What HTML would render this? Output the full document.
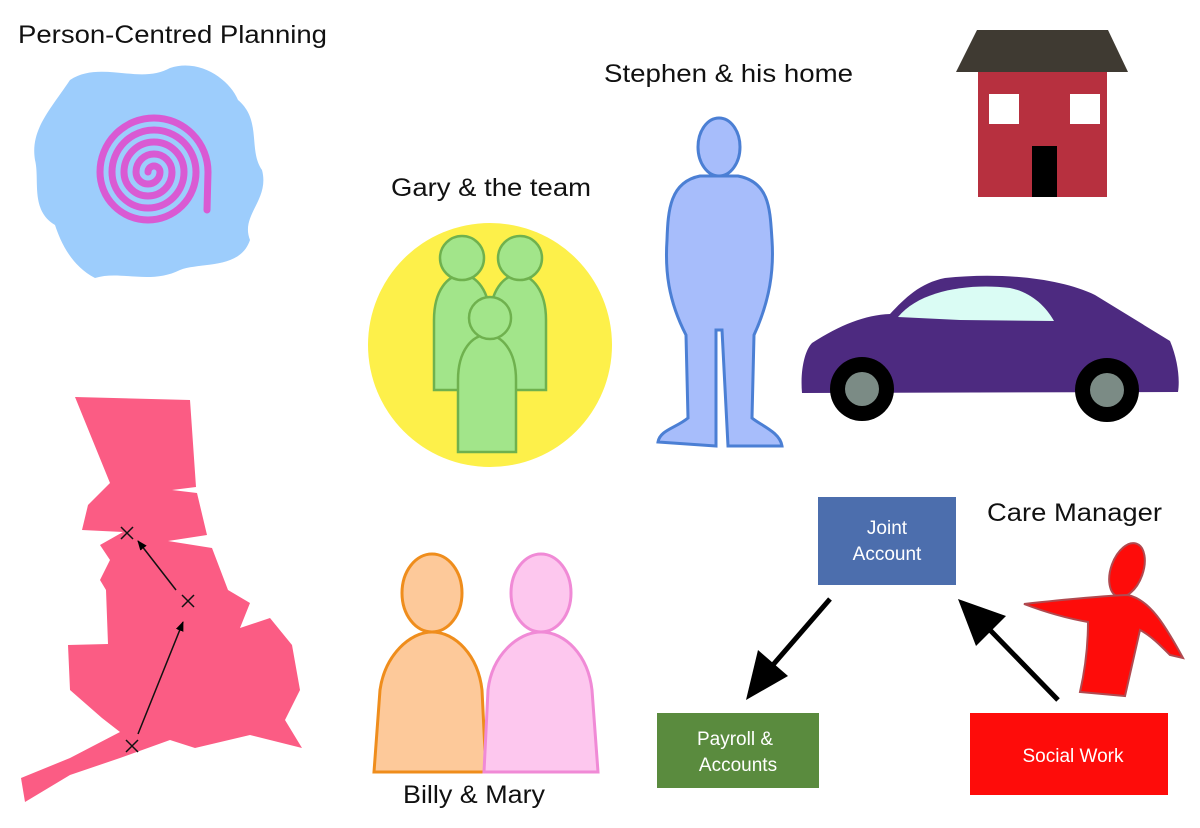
<!DOCTYPE html>
<html><head><meta charset="utf-8"><style>
html,body{margin:0;padding:0;background:#fff;}
svg{display:block;}
text{font-family:"Liberation Sans",sans-serif;}
</style></head><body>
<svg width="1200" height="828" viewBox="0 0 1200 828" xmlns="http://www.w3.org/2000/svg">
<defs>
<marker id="a" markerWidth="10" markerHeight="10" refX="9" refY="5" orient="auto" markerUnits="userSpaceOnUse"><path d="M0,1 L10,5 L0,9 Z" fill="#000"/></marker>
</defs>
<!-- Person-Centred Planning -->
<text x="18" y="43" font-size="25" fill="#111" textLength="309" lengthAdjust="spacingAndGlyphs">Person-Centred Planning</text>
<path d="M70,80 C100,60 140,85 170,68 C200,58 230,80 238,100 C262,120 248,150 262,170 C270,200 240,215 250,240 C240,270 200,262 180,270 C150,285 120,270 95,278 C70,265 60,240 55,225 C30,210 40,180 35,160 C30,130 50,110 70,80 Z" fill="#9dcdfc"/>
<path d="M148,172 A6,6 0 0 1 160,172 A12,12 0 0 1 136,172 A18,18 0 0 1 172,172 A24,24 0 0 1 124,172 A30,30 0 0 1 184,172 A36,36 0 0 1 112,172 A42,42 0 0 1 196,172 A48,48 0 0 1 100,172 A54,54 0 0 1 208,172 L207,210" fill="none" stroke="#d95ad3" stroke-width="7" stroke-linecap="round"/>
<!-- Gary & the team -->
<text x="391" y="196" font-size="25" fill="#111" textLength="200" lengthAdjust="spacingAndGlyphs">Gary &amp; the team</text>
<circle cx="490" cy="345" r="122" fill="#fdf04a"/>
<g fill="#a2e58a" stroke="#6fb14e" stroke-width="2.5">
<path d="M434,390 L434,320 C434,260 490,260 490,320 L490,390 Z"/>
<circle cx="462" cy="258" r="22"/>
<path d="M490,390 L490,320 C490,260 546,260 546,320 L546,390 Z"/>
<circle cx="520" cy="258" r="22"/>
<path d="M458,452 L458,380 C458,320 516,320 516,380 L516,452 Z"/>
<circle cx="490" cy="318" r="21"/>
</g>
<!-- Stephen -->
<text x="604" y="82" font-size="25" fill="#111" textLength="249" lengthAdjust="spacingAndGlyphs">Stephen &amp; his home</text>
<g fill="#a7bdfb" stroke="#4b7fd4" stroke-width="3">
<ellipse cx="719" cy="147" rx="21" ry="29"/>
<path d="M700,176 C670,182 668,210 667,240 C665,270 668,300 686,335 L688,418 C676,428 660,430 658,442 L716,446 L716,330 L722,330 L728,446 L782,446 C780,432 760,425 752,418 L754,335 C770,300 774,270 772,240 C770,210 770,182 738,176 Z"/>
</g>
<!-- House -->
<polygon points="956,72 1128,72 1108,30 977,30" fill="#3f3a32"/>
<rect x="978" y="72" width="129" height="125" fill="#b7303f"/>
<rect x="989" y="94" width="30" height="30" fill="#fff"/>
<rect x="1070" y="94" width="30" height="30" fill="#fff"/>
<rect x="1032" y="146" width="25" height="51" fill="#000"/>
<!-- Car -->
<path d="M802,393 C800,370 805,350 812,343 C840,325 865,315 890,314 C905,298 920,283 945,278 C1000,272 1060,278 1095,295 L1170,341 C1178,360 1180,380 1178,392 Z" fill="#4d2a80"/>
<path d="M898,317 C920,290 970,283 1010,288 C1030,292 1045,305 1054,321 L960,320 Z" fill="#dafcf4"/>
<circle cx="862" cy="389" r="32" fill="#000"/><circle cx="862" cy="389" r="17" fill="#7b8b85"/>
<circle cx="1107" cy="390" r="32" fill="#000"/><circle cx="1107" cy="390" r="17" fill="#7b8b85"/>
<!-- UK map -->
<path d="M75,397 L190,400 L196,487 L172,490 L197,493 L207,535 L168,541 L212,548 L228,590 L250,603 L240,628 L270,618 L292,645 L300,690 L285,720 L302,748 L250,735 L195,748 L170,740 L120,758 L70,775 L25,802 L21,778 L70,758 L120,732 L102,718 L70,690 L68,645 L108,644 L106,590 L100,580 L110,560 L100,545 L123,532 L82,530 L88,505 L110,483 Z" fill="#fb5c84"/>
<g stroke="#111" stroke-width="1.5" fill="none">
<path d="M121,527 L133,539 M133,527 L121,539"/>
<path d="M182,595 L194,607 M194,595 L182,607"/>
<path d="M126,740 L138,752 M138,740 L126,752"/>
<line x1="176" y1="590" x2="138" y2="541" marker-end="url(#a)"/>
<line x1="138" y1="734" x2="183" y2="622" marker-end="url(#a)"/>
</g>
<!-- Billy & Mary -->
<g stroke-width="3">
<ellipse cx="432" cy="593" rx="30" ry="39" fill="#fdc99a" stroke="#ef8d1c"/>
<path d="M374,772 L380,690 C385,655 410,632 432,632 C455,632 478,655 482,690 L486,772 Z" fill="#fdc99a" stroke="#ef8d1c"/>
<ellipse cx="541" cy="593" rx="30" ry="39" fill="#fdc7ee" stroke="#f08ad6"/>
<path d="M484,772 L488,690 C492,655 518,632 541,632 C565,632 588,655 592,690 L598,772 Z" fill="#fdc7ee" stroke="#f08ad6"/>
</g>
<text x="403" y="803" font-size="25" fill="#111" textLength="142" lengthAdjust="spacingAndGlyphs">Billy &amp; Mary</text>
<!-- Boxes -->
<rect x="818" y="497" width="138" height="88" fill="#4c6ead"/>
<text x="887" y="534" font-size="19" fill="#fff" text-anchor="middle">Joint</text>
<text x="887" y="560" font-size="19" fill="#fff" text-anchor="middle">Account</text>
<rect x="657" y="713" width="162" height="75" fill="#5a8b3e"/>
<text x="735" y="745" font-size="19" fill="#fff" text-anchor="middle">Payroll &amp;</text>
<text x="738" y="771" font-size="19" fill="#fff" text-anchor="middle">Accounts</text>
<rect x="970" y="713" width="198" height="82" fill="#fe0c0a"/>
<text x="1073" y="762" font-size="19" fill="#fff" text-anchor="middle">Social Work</text>
<text x="987" y="521" font-size="25" fill="#111" textLength="175" lengthAdjust="spacingAndGlyphs">Care Manager</text>
<!-- arrows -->
<line x1="830" y1="599" x2="772" y2="666" stroke="#000" stroke-width="5"/>
<polygon points="746,700 758,650 788,676" fill="#000"/>
<line x1="1058" y1="700" x2="990" y2="630" stroke="#000" stroke-width="5"/>
<polygon points="958,599 1006,616 976,646" fill="#000"/>
<!-- care manager figure -->
<g fill="#fe0c0a" stroke="#b04a50" stroke-width="2">
<ellipse cx="1127" cy="570" rx="16" ry="28" transform="rotate(20 1127 570)"/>
<path d="M1024,604 C1060,600 1100,596 1128,595 C1150,600 1165,625 1183,658 L1170,655 C1160,645 1150,635 1140,630 L1125,696 L1080,692 C1085,670 1088,645 1088,622 C1065,618 1045,612 1024,604 Z"/>
</g>
</svg>
</body></html>
